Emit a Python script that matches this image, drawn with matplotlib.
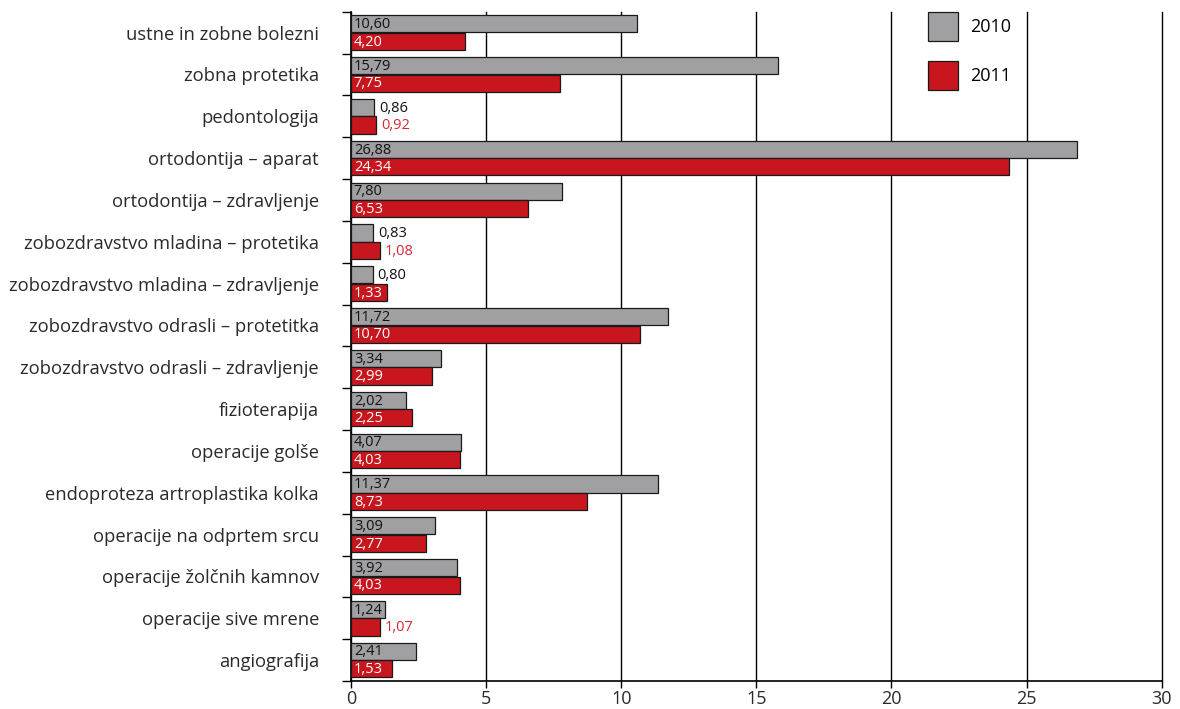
import matplotlib
matplotlib.use("Agg")
import matplotlib.pyplot as plt
import numpy as np

plt.rcParams['font.family'] = ['Open Sans', 'DejaVu Sans']

categories = [
    "ustne in zobne bolezni",
    "zobna protetika",
    "pedontologija",
    "ortodontija – aparat",
    "ortodontija – zdravljenje",
    "zobozdravstvo mladina – protetika",
    "zobozdravstvo mladina – zdravljenje",
    "zobozdravstvo odrasli – protetitka",
    "zobozdravstvo odrasli – zdravljenje",
    "fizioterapija",
    "operacije golše",
    "endoproteza artroplastika kolka",
    "operacije na odprtem srcu",
    "operacije žolčnih kamnov",
    "operacije sive mrene",
    "angiografija",
]
vals_2010 = [10.60, 15.79, 0.86, 26.88, 7.80, 0.83, 0.80, 11.72, 3.34, 2.02,
             4.07, 11.37, 3.09, 3.92, 1.24, 2.41]
vals_2011 = [4.20, 7.75, 0.92, 24.34, 6.53, 1.08, 1.33, 10.70, 2.99, 2.25,
             4.03, 8.73, 2.77, 4.03, 1.07, 1.53]

GREY = "#a0a0a3"
RED = "#c8161e"
RED_TXT = "#d42a33"

fig = plt.figure(figsize=(11.8, 7.09), dpi=100)
ax = fig.add_axes([0.2975, 0.0395, 0.687, 0.944])

y = np.arange(len(categories))
h = 0.41
off = 0.21
ax.barh(y - off, vals_2010, height=h, color=GREY, edgecolor="#1a1a1a", lw=0.9,
        label="2010", zorder=3)
ax.barh(y + off, vals_2011, height=h, color=RED, edgecolor="#1a1a1a", lw=0.9,
        label="2011", zorder=3)

# value labels: inside for wider bars, next to the bar for short ones
def fmt(v):
    return f"{v:.2f}".replace(".", ",")

def put_labels(ys, vals, inside_col, outside_col):
    for yi, v in zip(ys, vals):
        if v >= 1.2:
            xy, dx, col = (0, yi), 2, inside_col
        else:
            xy, dx, col = (v, yi), 3.5, outside_col
        ax.annotate(fmt(v), xy, xytext=(dx, -0.5), textcoords="offset points",
                    ha="left", va="center", fontsize=10.5, color=col, zorder=4)

put_labels(y - off, vals_2010, "#111111", "#111111")
put_labels(y + off, vals_2011, "white", RED_TXT)

ax.set_xlim(0, 30)
ax.set_ylim(len(categories) - 0.5, -0.5)
ax.set_xticks(np.arange(0, 31, 5))
ax.set_yticks(y)
ax.set_yticklabels(categories, fontsize=13.2, color="#2a2a2a")
ax.set_yticks(np.arange(-0.5, len(categories), 1), minor=True)
ax.tick_params(axis="y", which="major", length=0, pad=23)
ax.tick_params(axis="y", which="minor", length=6.5, width=1, color="black")
ax.tick_params(axis="x", length=5, width=1, labelsize=13, labelcolor="#2a2a2a", pad=1.5)

ax.grid(axis="x", color="black", lw=1, zorder=1)
for gl in ax.get_xgridlines():
    gl.set_clip_on(False)
for s in ["top", "right"]:
    ax.spines[s].set_visible(False)
ax.spines["left"].set_linewidth(1.2)
ax.spines["bottom"].set_linewidth(1.2)

leg = ax.legend(loc="upper left", bbox_to_anchor=(0.7115, 1.0), frameon=False,
                fontsize=13, handlelength=1.65, handleheight=2.1,
                labelspacing=1.1, handletextpad=0.7, borderaxespad=0, borderpad=0)

fig.savefig("out.png", dpi=100)
